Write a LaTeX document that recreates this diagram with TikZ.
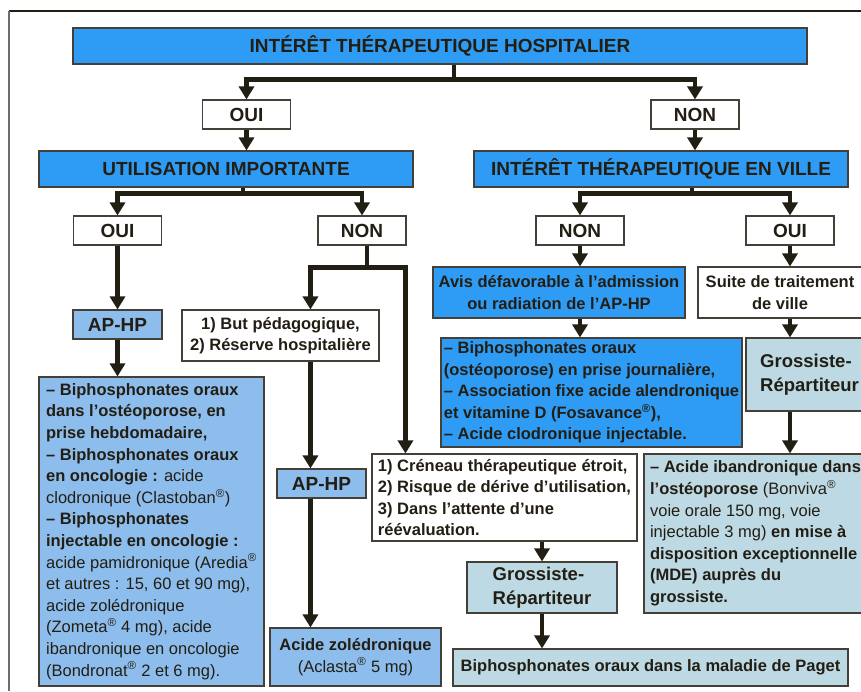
\documentclass[tikz,border=0pt]{standalone}
\usepackage{fontspec}
\setmainfont{Liberation Sans}
\usetikzlibrary{arrows.meta}
\definecolor{vif}{HTML}{2E9CF4}
\definecolor{clair}{HTML}{8DBDEC}
\definecolor{gris}{HTML}{BDD9E4}
\definecolor{encre}{HTML}{231E14}
\begin{document}
\begin{tikzpicture}[x=1pt, y=-1pt,
	every node/.style={draw=encre!85, line width=1.1pt, text=encre, inner sep=0pt, align=center,
		font=\bfseries\fontsize{16.5}{21.6}\selectfont},
	titre/.style={fill=vif, minimum height=36pt, font=\bfseries\fontsize{19}{24}\selectfont},
	choix/.style={fill=white, minimum width=88pt, minimum height=29pt, font=\bfseries\fontsize{19}{24}\selectfont},
	aphp/.style={fill=clair, minimum width=89pt, minimum height=29pt, font=\bfseries\fontsize{19}{24}\selectfont},
	gros/.style={fill=gris, align=left, font=\bfseries\fontsize{18.5}{24}\selectfont},
	liste/.style={align=left},
	link/.style={draw=encre, line width=4.5pt, -{Triangle[length=13pt, width=15pt]}}]
	\clip (0,0) rectangle (861,691);
	\useasboundingbox (0,0) rectangle (861,691);
	% cadre
	\draw[encre, line width=1.4pt] (861,11) -- (9,11);
	\draw[encre!65, line width=2pt] (9,11) -- (9,691);
	% premier niveau
	\node[titre, minimum width=734pt] (hosp) at (440,46) {INTÉRÊT THÉRAPEUTIQUE HOSPITALIER};
	\node[choix] (oui1) at (246.5,114.5) {OUI};
	\node[choix] (non1) at (695,114.5) {NON};
	\node[titre, minimum width=374pt] (util) at (226,169) {UTILISATION IMPORTANTE};
	\node[titre, minimum width=374pt] (ville) at (661,169) {INTÉRÊT THÉRAPEUTIQUE EN VILLE};
	\node[choix] (oui2) at (117.5,230.5) {OUI};
	\node[choix] (non2) at (362,230.5) {NON};
	\node[choix] (non3) at (580,230.5) {NON};
	\node[choix] (oui3) at (790,230.5) {OUI};
	% colonne gauche
	\node[aphp] (hp1) at (117.5,324.5) {AP-HP};
	\node[liste, fill=clair, minimum width=225pt, minimum height=309pt] (hebdo) at (151.5,531.5)
		{-- Biphosphonates oraux\\dans l’ostéoporose, en\\prise hebdomadaire,\\
		-- Biphosphonates oraux\\en oncologie : \mdseries acide\\\mdseries clodronique (Clastoban\textsuperscript{®})\\
		-- Biphosphonates\\injectable en oncologie :\\
		\mdseries acide pamidronique (Aredia\textsuperscript{®}\\\mdseries et autres : 15, 60 et 90 mg),\\
		\mdseries acide zolédronique\\\mdseries (Zometa\textsuperscript{®} 4 mg), acide\\
		\mdseries ibandronique en oncologie\\\mdseries (Bondronat\textsuperscript{®} 2 et 6 mg).};
	\node[fill=white, minimum width=197pt, minimum height=51pt] (but) at (280.5,335.5)
		{1) But pédagogique,\\2) Réserve hospitalière};
	\node[aphp] (hp2) at (321.5,483.5) {AP-HP};
	\node[fill=clair, minimum width=171pt, minimum height=58pt] (zol) at (355.5,657)
		{Acide zolédronique\\\mdseries (Aclasta\textsuperscript{®} 5 mg)};
	\node[liste, fill=white, minimum width=265pt, minimum height=87pt] (creneau) at (504.5,497.5)
		{1) Créneau thérapeutique étroit,\\2) Risque de dérive d’utilisation,\\3) Dans l’attente d’une\\réévaluation.};
	% colonne droite
	\node[fill=vif, minimum width=252pt, minimum height=51pt] (avis) at (559,292.5)
		{Avis défavorable à l’admission\\ou radiation de l’AP-HP};
	\node[liste, fill=vif, minimum width=301pt, minimum height=109pt] (journ) at (591.5,392.5)
		{-- Biphosphonates oraux\\(ostéoporose) en prise journalière,\\-- Association fixe acide alendronique\\
		et vitamine D (Fosavance\textsuperscript{®}),\\-- Acide clodronique injectable.};
	\node[fill=white, minimum width=164pt, minimum height=51pt] (suite) at (780,292.5)
		{Suite de traitement\\de ville};
	\node[gros, minimum width=127pt, minimum height=73pt] (gros1) at (809.5,374.5)
		{Grossiste-\\Répartiteur};
	\node[liste, fill=gris, minimum width=223pt, minimum height=159pt] (ibandro) at (755.5,533.5)
		{-- Acide ibandronique dans\\l’ostéoporose \mdseries(Bonviva\textsuperscript{®}\\\mdseries voie orale 150 mg, voie\\
		\mdseries injectable 3 mg) \bfseries en mise à\\disposition exceptionnelle\\(MDE) auprès du\\grossiste.};
	\node[gros, minimum width=150pt, minimum height=51pt] (gros2) at (542,587.5)
		{Grossiste-\\Répartiteur};
	\node[fill=gris, minimum width=395pt, minimum height=37pt] (paget) at (650.5,667.5)
		{Biphosphonates oraux dans la maladie de Paget};
	% fleches
	\draw[link] ([xshift=14pt]hosp.south) -- ++(0,15) -| (oui1);
	\draw[link] ([xshift=14pt]hosp.south) -- ++(0,15) -| (non1);
	\draw[link] (oui1) -- (oui1 |- util.north);
	\draw[link] (non1) -- (non1 |- ville.north);
	\draw[link] ([xshift=17pt]util.south) -- ++(0,6) -| (oui2);
	\draw[link] ([xshift=17pt]util.south) -- ++(0,6) -| (non2);
	\draw[link] ([xshift=31pt]ville.south) -- ++(0,6) -| (non3);
	\draw[link] ([xshift=31pt]ville.south) -- ++(0,6) -| (oui3);
	\draw[link] (oui2) -- (hp1);
	\draw[link] (hp1) -- (hp1 |- hebdo.north);
	\draw[link] ([xshift=5pt]non2.south) -- ++(0,22) -| ([xshift=129pt]but.north west);
	\draw[link] ([xshift=5pt]non2.south) -- ++(0,22) -| ([xshift=34pt]creneau.north west);
	\draw[link] ([xshift=129pt]but.south west) -- ([xshift=34pt]hp2.north west);
	\draw[link] ([xshift=34pt]hp2.south west) -- ([xshift=41pt]zol.north west);
	\draw[link] (non3) -- (non3 |- avis.north);
	\draw[link] (avis.south -| non3) -- (journ.north -| non3);
	\draw[link] (oui3) -- (oui3 |- suite.north);
	\draw[link] (suite.south -| oui3) -- (gros1.north -| oui3);
	\draw[link] (gros1.south -| oui3) -- (ibandro.north -| oui3);
	\draw[link] (creneau.south -| gros2) -- (gros2);
	\draw[link] (gros2) -- (gros2 |- paget.north);
\end{tikzpicture}
\end{document}
